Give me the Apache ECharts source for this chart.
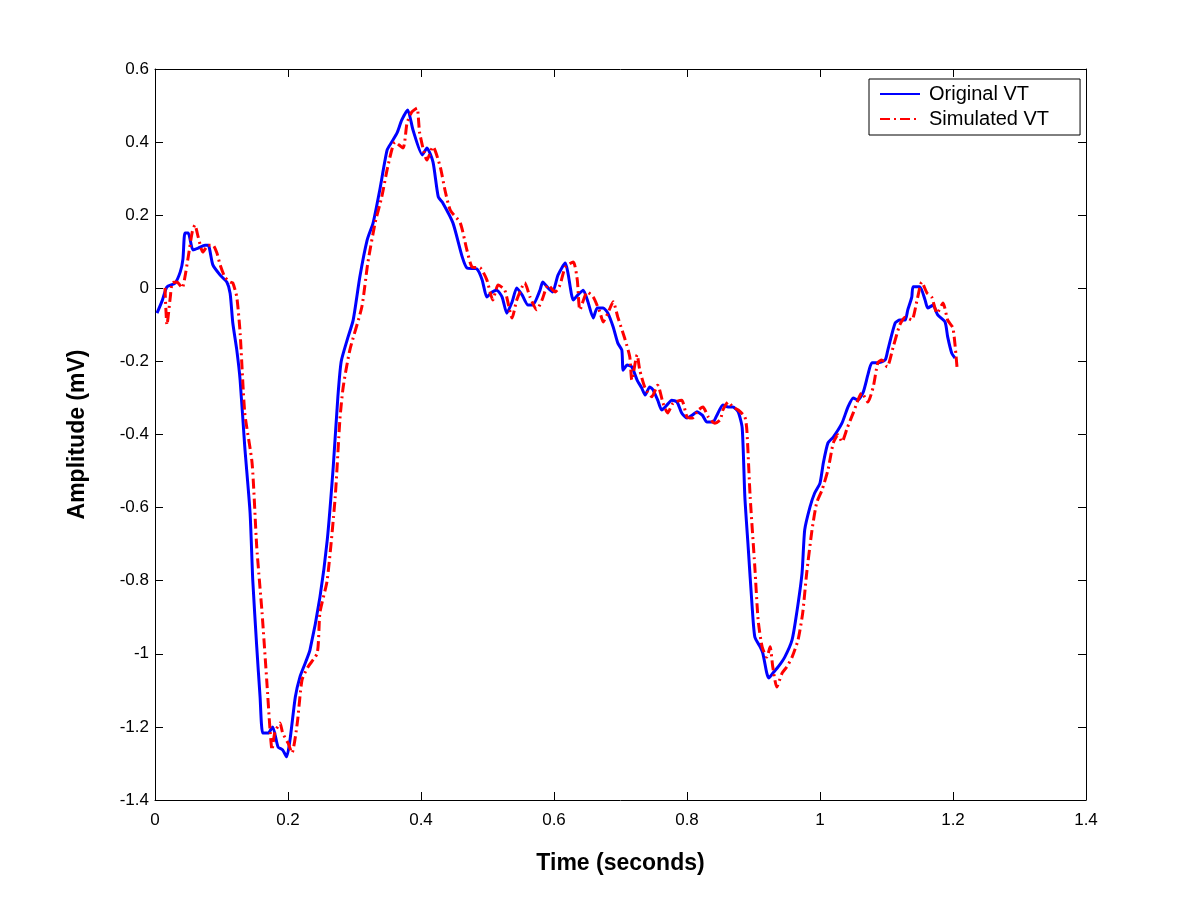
<!DOCTYPE html>
<html>
<head>
<meta charset="utf-8">
<script src="https://cdn.jsdelivr.net/npm/echarts@6/dist/echarts.min.js"></script>
<style>html,body{margin:0;padding:0;background:#fff;}#c{width:1200px;height:900px;}</style>
</head>
<body>
<div id="c"></div>
<script>
const seriesNames = ['Original VT', 'Simulated VT'];
const xTicks = [0, 0.2, 0.4, 0.6, 0.8, 1, 1.2, 1.4];
const yTicks = [-1.4, -1.2, -1, -0.8, -0.6, -0.4, -0.2, 0, 0.2, 0.4, 0.6];

const originalT = [0.003,0.011,0.018,0.030,0.038,0.042,0.045,0.050,0.057,0.065,0.075,0.080,0.087,0.098,0.108,0.113,0.117,0.123,0.128,0.135,0.143,0.147,0.153,0.158,0.162,0.170,0.177,0.185,0.192,0.198,0.203,0.211,0.218,0.226,0.233,0.248,0.259,0.268,0.275,0.280,0.289,0.298,0.308,0.319,0.328,0.338,0.349,0.356,0.364,0.371,0.380,0.388,0.402,0.409,0.418,0.426,0.433,0.448,0.462,0.469,0.484,0.492,0.499,0.507,0.514,0.522,0.529,0.537,0.544,0.552,0.561,0.568,0.579,0.583,0.591,0.598,0.606,0.617,0.621,0.629,0.636,0.644,0.651,0.659,0.665,0.674,0.681,0.689,0.696,0.702,0.704,0.710,0.717,0.725,0.732,0.737,0.744,0.749,0.756,0.762,0.770,0.777,0.785,0.792,0.800,0.808,0.815,0.823,0.830,0.839,0.845,0.854,0.862,0.869,0.877,0.883,0.887,0.892,0.898,0.902,0.910,0.914,0.920,0.923,0.929,0.937,0.947,0.958,0.965,0.973,0.977,0.985,0.992,1.000,1.005,1.012,1.020,1.033,1.042,1.050,1.057,1.065,1.072,1.078,1.087,1.098,1.102,1.113,1.120,1.128,1.132,1.138,1.140,1.150,1.158,1.162,1.170,1.177,1.188,1.192,1.198,1.203];
const originalV = [-0.068,-0.033,0.004,0.014,0.045,0.080,0.151,0.151,0.105,0.110,0.118,0.118,0.064,0.036,0.017,-0.014,-0.095,-0.169,-0.251,-0.434,-0.615,-0.798,-0.981,-1.118,-1.217,-1.217,-1.200,-1.255,-1.263,-1.282,-1.236,-1.118,-1.063,-1.025,-0.990,-0.845,-0.689,-0.489,-0.297,-0.200,-0.141,-0.087,0.031,0.132,0.179,0.269,0.378,0.400,0.425,0.460,0.488,0.433,0.365,0.384,0.346,0.250,0.233,0.179,0.086,0.056,0.053,0.023,-0.024,-0.010,-0.005,-0.024,-0.068,-0.037,0.001,-0.018,-0.046,-0.046,-0.005,0.017,0.001,-0.010,0.036,0.069,0.042,-0.032,-0.018,-0.005,-0.037,-0.081,-0.054,-0.054,-0.068,-0.106,-0.150,-0.169,-0.224,-0.210,-0.215,-0.251,-0.273,-0.292,-0.270,-0.278,-0.306,-0.333,-0.319,-0.306,-0.311,-0.341,-0.355,-0.347,-0.338,-0.347,-0.366,-0.366,-0.347,-0.319,-0.325,-0.325,-0.338,-0.382,-0.571,-0.708,-0.872,-0.954,-0.981,-0.998,-1.053,-1.066,-1.053,-1.036,-1.009,-0.962,-0.888,-0.779,-0.661,-0.598,-0.560,-0.533,-0.478,-0.423,-0.407,-0.369,-0.325,-0.300,-0.306,-0.284,-0.237,-0.204,-0.204,-0.196,-0.169,-0.095,-0.087,-0.087,-0.059,-0.024,0.004,0.004,-0.032,-0.054,-0.046,-0.073,-0.092,-0.133,-0.177,-0.191];

const simulatedT = [0.015,0.018,0.023,0.026,0.033,0.041,0.045,0.050,0.056,0.060,0.065,0.072,0.080,0.087,0.093,0.098,0.105,0.113,0.117,0.123,0.128,0.135,0.146,0.153,0.161,0.168,0.173,0.176,0.180,0.188,0.192,0.200,0.206,0.214,0.221,0.230,0.244,0.248,0.259,0.271,0.278,0.283,0.293,0.311,0.320,0.331,0.341,0.350,0.361,0.373,0.379,0.386,0.394,0.398,0.409,0.418,0.429,0.436,0.444,0.459,0.469,0.477,0.489,0.499,0.508,0.516,0.526,0.537,0.544,0.556,0.564,0.574,0.582,0.591,0.602,0.609,0.617,0.629,0.635,0.639,0.650,0.659,0.669,0.674,0.681,0.689,0.696,0.707,0.714,0.717,0.725,0.729,0.737,0.747,0.756,0.764,0.771,0.779,0.792,0.800,0.808,0.817,0.824,0.832,0.842,0.850,0.854,0.862,0.869,0.877,0.887,0.890,0.895,0.902,0.907,0.913,0.920,0.925,0.929,0.935,0.943,0.950,0.958,0.967,0.974,0.980,0.988,0.995,1.003,1.012,1.020,1.027,1.033,1.041,1.050,1.063,1.072,1.080,1.087,1.093,1.101,1.110,1.120,1.128,1.138,1.146,1.153,1.161,1.168,1.176,1.185,1.192,1.200,1.206];
const simulatedV = [0.001,-0.100,-0.024,0.015,0.017,0.001,0.031,0.086,0.154,0.173,0.140,0.099,0.118,0.118,0.097,0.064,0.031,0.017,0.015,-0.024,-0.122,-0.341,-0.478,-0.708,-0.888,-1.072,-1.208,-1.263,-1.217,-1.189,-1.217,-1.244,-1.271,-1.189,-1.072,-1.036,-0.998,-0.888,-0.798,-0.571,-0.360,-0.270,-0.169,-0.051,0.069,0.179,0.250,0.332,0.400,0.384,0.452,0.482,0.493,0.425,0.351,0.387,0.332,0.269,0.214,0.179,0.105,0.058,0.056,0.023,-0.032,0.009,-0.005,-0.081,-0.032,0.015,-0.024,-0.059,-0.032,0.009,-0.010,0.009,0.058,0.072,0.023,-0.059,-0.010,-0.024,-0.065,-0.092,-0.068,-0.037,-0.079,-0.141,-0.188,-0.251,-0.182,-0.224,-0.273,-0.297,-0.265,-0.314,-0.341,-0.314,-0.306,-0.352,-0.355,-0.333,-0.325,-0.352,-0.369,-0.360,-0.333,-0.311,-0.325,-0.333,-0.352,-0.388,-0.571,-0.763,-0.908,-0.981,-1.009,-0.981,-1.036,-1.091,-1.053,-1.036,-1.009,-0.962,-0.888,-0.779,-0.661,-0.587,-0.552,-0.497,-0.423,-0.401,-0.420,-0.382,-0.341,-0.286,-0.311,-0.270,-0.204,-0.196,-0.215,-0.161,-0.100,-0.079,-0.087,-0.032,0.017,-0.013,-0.024,-0.068,-0.040,-0.087,-0.109,-0.215];

const pair = (t, v) => t.map((x, i) => [x, v[i]]);
const fmt = v => (Math.abs(v) < 1e-9 ? '0' : String(Math.round(v * 10) / 10));
const font = 'Liberation Sans, Arial, sans-serif';

const chart = echarts.init(document.getElementById('c'), null, { renderer: 'canvas' });
const axisCommon = {
  type: 'value',
  splitLine: { show: false },
  axisLine: { show: true, onZero: false, lineStyle: { color: '#000', width: 1 } },
  axisTick: { show: true, inside: true, length: 8, lineStyle: { color: '#000', width: 1 } }
};
chart.setOption({
  animation: false,
  backgroundColor: '#fff',
  grid: { left: 155, right: 114, top: 69, bottom: 100, containLabel: false },
  legend: {
    data: [
      { name: seriesNames[0] },
      { name: seriesNames[1] }
    ],
    orient: 'vertical',
    left: 869,
    top: 79,
    padding: [5, 31, 6, 10],
    itemGap: 5,
    itemWidth: 40,
    itemHeight: 14,
    backgroundColor: '#fff',
    borderColor: '#000',
    borderWidth: 1,
    borderRadius: 0,
    itemStyle: { opacity: 0 },
    textStyle: { fontFamily: font, fontSize: 20, color: '#000', padding: [0, 0, 0, 4] }
  },
  xAxis: [
    Object.assign({}, axisCommon, {
      min: 0, max: 1.4, interval: 0.2, position: 'bottom',
      name: 'Time (seconds)', nameLocation: 'middle', nameGap: 52,
      nameTextStyle: { fontFamily: font, fontSize: 23, fontWeight: 'bold', color: '#000' },
      axisLabel: { fontFamily: font, fontSize: 17, color: '#000', margin: 12, formatter: fmt }
    }),
    Object.assign({}, axisCommon, {
      min: 0, max: 1.4, interval: 0.2, position: 'top', axisLabel: { show: false }
    })
  ],
  yAxis: [
    Object.assign({}, axisCommon, {
      min: -1.4, max: 0.6, interval: 0.2, position: 'left',
      name: 'Amplitude (mV)', nameLocation: 'middle', nameGap: 66,
      nameTextStyle: { fontFamily: font, fontSize: 23, fontWeight: 'bold', color: '#000' },
      axisLabel: { fontFamily: font, fontSize: 17, color: '#000', margin: 6, formatter: fmt }
    }),
    Object.assign({}, axisCommon, {
      min: -1.4, max: 0.6, interval: 0.2, position: 'right', axisLabel: { show: false }
    })
  ],
  series: [
    {
      name: seriesNames[0], type: 'line', xAxisIndex: 0, yAxisIndex: 0,
      data: pair(originalT, originalV), showSymbol: false, symbol: 'none', smooth: 0.2,
      lineStyle: { color: '#0000ff', width: 3 }, itemStyle: { color: '#0000ff' }, z: 3
    },
    {
      name: seriesNames[1], type: 'line', xAxisIndex: 0, yAxisIndex: 0,
      data: pair(simulatedT, simulatedV), showSymbol: false, symbol: 'none', smooth: 0.2,
      lineStyle: { color: '#ff0000', width: 3, type: [10, 4, 2, 4] }, itemStyle: { color: '#ff0000' }, z: 4
    }
  ]
});
</script>
</body>
</html>
